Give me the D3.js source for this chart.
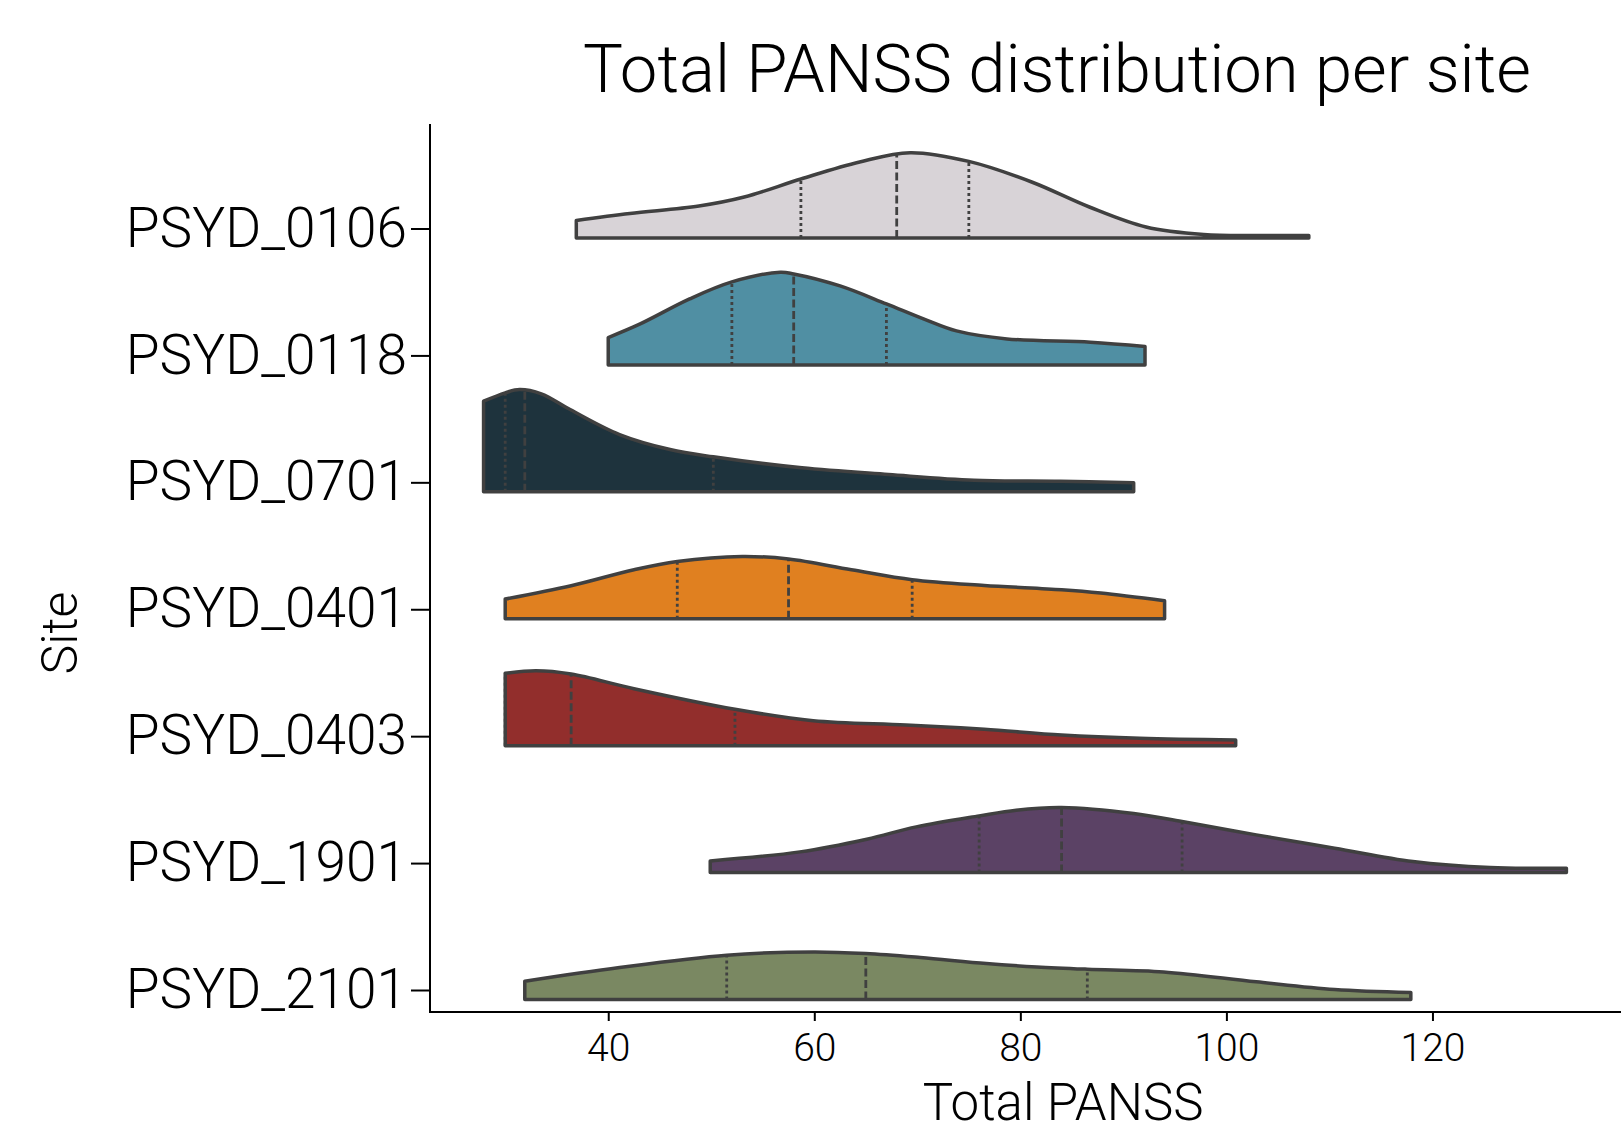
<!DOCTYPE html>
<html>
<head>
<meta charset="utf-8">
<script src="https://cdn.jsdelivr.net/npm/d3@7"></script>
<style>
  html, body { margin: 0; padding: 0; background: #fff; }
  svg { display: block; font-family: Roboto, "Liberation Sans", sans-serif; font-weight: 300; }
</style>
</head>
<body>
<svg id="chart" width="1621" height="1134"></svg>
<script>
// sites, top to bottom
const sites = ["PSYD_0106", "PSYD_0118", "PSYD_0701", "PSYD_0401", "PSYD_0403", "PSYD_1901", "PSYD_2101"];
const siteColors = ["#d8d3d7", "#508fa3", "#1e333d", "#e08020", "#922e2c", "#5b4265", "#7a8862"];

// estimated kernel density per site: [Total PANSS, scaled density]
const dens0106 = [[36.9,.176],[42.1,.245],[48.8,.32],[53.2,.41],[58.7,.59],[64.4,.76],[69.3,.853],[75.0,.766],[81.1,.56],[86.7,.31],[92.2,.11],[97.8,.035],[103,.025],[108,.025]];
const dens0118 = [[40,.274],[43.1,.41],[47.9,.66],[52,.83],[56.7,.927],[58,.91],[62.5,.79],[67,.61],[70.6,.46],[73.8,.34],[78.7,.26],[86.8,.227],[92.1,.184]];
const dens0701 = [[27.9,.906],[30,.99],[31.4,1.023],[33.5,.98],[36.3,.823],[41.1,.573],[46.0,.423],[50.2,.35],[58.8,.24],[67.2,.173],[75.5,.116],[83.9,.106],[91,.09]];
const dens0401 = [[30,.197],[36.4,.33],[42.5,.49],[46.7,.573],[53,.623],[57.5,.597],[63.6,.49],[69.5,.39],[76.5,.333],[84,.29],[87.8,.257],[94,.18]];
const dens0403 = [[30,.724],[33,.75],[36.4,.717],[42.5,.57],[52.3,.364],[59.9,.25],[68.9,.207],[76.5,.164],[84,.107],[91.6,.074],[100.9,.057]];
const dens1901 = [[49.9,.117],[58.6,.207],[65.1,.334],[69.9,.457],[76,.567],[79.6,.624],[84,.65],[91,.59],[95.7,.51],[102.9,.377],[110.5,.244],[118.1,.11],[125.6,.05],[133,.044]];
const dens2101 = [[31.9,.183],[41.1,.32],[51.5,.443],[59.9,.476],[65,.46],[70.3,.42],[76.7,.36],[81.6,.326],[86.5,.303],[93.9,.276],[102.9,.177],[110.5,.10],[117.9,.07]];
const densities = [dens0106, dens0118, dens0701, dens0401, dens0403, dens1901, dens2101];

// quartiles per site
const q1s     = [58.7, 52.0, 30.0, 46.7, 30.0, 76.0, 51.5];
const medians = [68.0, 58.0, 31.9, 57.5, 36.4, 84.0, 65.0];
const q3s     = [75.0, 67.0, 50.2, 69.5, 52.3, 95.7, 86.5];

const xTicks = [40, 60, 80, 100, 120];

const svg = d3.select("#chart");
const plotLeft = 430, plotRight = 1621, plotTop = 124, plotBottom = 1012;
const lineColor = "#404040";

const x = d3.scaleLinear().domain([22.7, 138.3]).range([plotLeft, plotRight]);
const y = d3.scalePoint().domain(sites).range([228.5, 990]);
const h = d3.scaleLinear().domain([0, 1]).range([0, 100]);
const baseOffset = 9.5;
const curve = d3.curveCatmullRom.alpha(0.5);

// title
svg.append("text")
  .attr("x", 1057).attr("y", 92)
  .attr("text-anchor", "middle")
  .style("font-size", "67px")
  .text("Total PANSS distribution per site");

// violins
sites.forEach((site, i) => {
  const base = y(site) + baseOffset;
  const g = svg.append("g");

  const area = d3.area()
    .x(d => x(d[0]))
    .y0(base)
    .y1(d => base - h(d[1]))
    .curve(curve);

  g.append("path")
    .attr("d", area(densities[i]))
    .attr("fill", siteColors[i])
    .attr("stroke", "none");

  // ridge path used to find quartile heights
  const ridge = g.append("path")
    .attr("d", d3.line().x(d => x(d[0])).y(d => base - h(d[1])).curve(curve)(densities[i]))
    .attr("fill", "none")
    .attr("stroke", "none");
  const node = ridge.node();
  const len = node.getTotalLength();
  function yAt(px) {
    let lo = 0, hi = len;
    for (let k = 0; k < 40; k++) {
      const mid = (lo + hi) / 2;
      if (node.getPointAtLength(mid).x < px) lo = mid; else hi = mid;
    }
    return node.getPointAtLength((lo + hi) / 2).y;
  }

  [[q1s[i], "3,3"], [medians[i], "8,3.5"], [q3s[i], "3,3"]].forEach(([v, dash]) => {
    g.append("line")
      .attr("x1", x(v)).attr("x2", x(v))
      .attr("y1", base).attr("y2", yAt(x(v)))
      .attr("stroke", lineColor)
      .attr("stroke-width", 2.8)
      .attr("stroke-dasharray", dash);
  });

  g.append("path")
    .attr("d", area(densities[i]))
    .attr("fill", "none")
    .attr("stroke", lineColor)
    .attr("stroke-width", 3.5)
    .attr("stroke-linejoin", "round");
});

// axes
const yAxis = svg.append("g")
  .attr("transform", `translate(${plotLeft},0)`)
  .call(d3.axisLeft(y).tickSize(19).tickPadding(4));
yAxis.select(".domain").remove();
yAxis.selectAll(".tick line").attr("stroke", "#000").attr("stroke-width", 2);
yAxis.selectAll(".tick text")
  .attr("fill", "#000")
  .style("font-family", "Roboto, sans-serif")
  .style("font-weight", 300)
  .style("font-size", "55px");

const xAxis = svg.append("g")
  .attr("transform", `translate(0,${plotBottom})`)
  .call(d3.axisBottom(x).tickValues(xTicks).tickSize(9).tickPadding(12));
xAxis.select(".domain").remove();
xAxis.selectAll(".tick line").attr("stroke", "#000").attr("stroke-width", 2);
xAxis.selectAll(".tick text")
  .attr("fill", "#000")
  .style("font-family", "Roboto, sans-serif")
  .style("font-weight", 300)
  .style("font-size", "39px");

svg.append("line")
  .attr("x1", plotLeft).attr("x2", plotLeft).attr("y1", plotTop).attr("y2", plotBottom + 1)
  .attr("stroke", "#000").attr("stroke-width", 2);
svg.append("line")
  .attr("x1", plotLeft - 1).attr("x2", plotRight).attr("y1", plotBottom).attr("y2", plotBottom)
  .attr("stroke", "#000").attr("stroke-width", 2);

// axis labels
svg.append("text")
  .attr("x", 1063).attr("y", 1120)
  .attr("text-anchor", "middle")
  .style("font-size", "51px")
  .text("Total PANSS");

svg.append("text")
  .attr("transform", "translate(77,633) rotate(-90)")
  .attr("text-anchor", "middle")
  .style("font-size", "50px")
  .text("Site");
</script>
</body>
</html>
